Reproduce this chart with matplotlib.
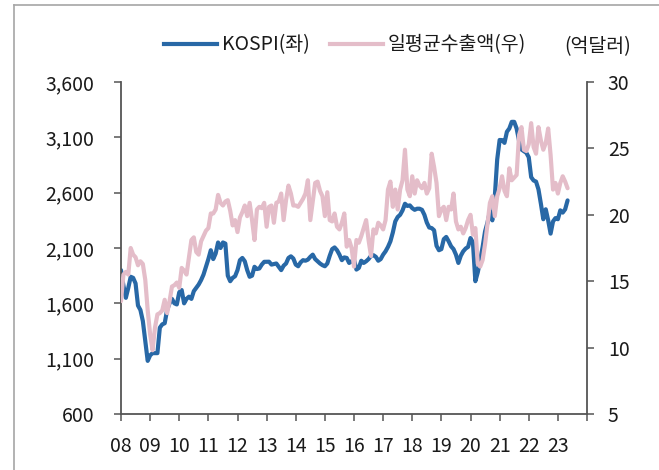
import matplotlib
matplotlib.use("Agg")
import matplotlib.pyplot as plt
import numpy as np
from matplotlib.lines import Line2D
from matplotlib.ticker import FuncFormatter, FixedLocator

plt.rcParams['font.family'] = ['Noto Sans CJK KR', 'DejaVu Sans']

# Monthly data, Jan 2008 .. May 2023
kospi = [
    # 2008
    1900, 1760, 1650, 1740, 1840, 1830, 1780, 1580, 1540, 1440, 1260, 1080,
    # 2009
    1130, 1150, 1150, 1150, 1380, 1410, 1420, 1540, 1600, 1640, 1600, 1590,
    # 2010
    1700, 1720, 1600, 1640, 1660, 1640, 1710, 1740, 1770, 1810, 1860, 1930,
    # 2011
    2000, 2080, 2000, 2050, 2150, 2100, 2150, 2140, 1850, 1800, 1830, 1845,
    # 2012
    1900, 1990, 2010, 1980, 1900, 1840, 1850, 1930, 1910, 1915, 1950, 1975,
    # 2013
    1975, 1976, 1950, 1955, 1960, 1930, 1900, 1940, 1960, 2010, 2025, 2005,
    # 2014
    1950, 1935, 1970, 1990, 1985, 1995, 2020, 2040, 2000, 1980, 1960, 1945,
    # 2015
    1935, 1960, 2030, 2090, 2105, 2080, 2040, 1990, 2015, 2010, 1965, 1980,
    # 2016
    1995, 1905, 1920, 1985, 1965, 1980, 2000, 2030, 2035, 2020, 1985, 2000,
    # 2017
    2040, 2070, 2110, 2160, 2240, 2340, 2380, 2400, 2440, 2500, 2480, 2485,
    # 2018
    2460, 2445, 2455, 2455, 2445, 2400, 2330, 2285, 2280, 2260, 2120, 2080,
    # 2019
    2090, 2180, 2200, 2160, 2115, 2090, 2040, 1965, 2030, 2070, 2095, 2110,
    # 2020
    2190, 2150, 1800, 1880, 1990, 2110, 2250, 2330, 2430, 2350, 2560, 2900,
    # 2021
    3076, 3075, 3050, 3150, 3180, 3240, 3240, 3180, 3070, 2990, 2975, 2960,
    # 2022
    2920, 2740, 2710, 2700, 2630, 2500, 2360, 2450, 2350, 2230, 2340, 2370,
    # 2023
    2360, 2440, 2420, 2450, 2530,
]

exports = [
    # 2008
    13.5, 15.5, 15.7, 15.5, 17.5, 17.0, 16.8, 16.2, 16.5, 16.3, 15.1, 12.8,
    # 2009
    11.0, 9.8, 11.5, 12.5, 12.6, 12.8, 13.6, 12.6, 13.5, 14.6, 14.7, 14.9,
    # 2010
    14.5, 16.0, 15.8, 15.5, 16.8, 18.1, 18.3, 17.2, 17.0, 18.0, 18.4, 18.8,
    # 2011
    19.0, 20.1, 20.1, 20.4, 21.5, 20.9, 20.7, 21.0, 21.1, 20.3, 19.2, 19.6,
    # 2012
    18.7, 19.8, 20.2, 20.7, 19.9, 20.9, 19.6, 18.1, 20.4, 20.6, 20.5, 20.9,
    # 2013
    19.1, 20.6, 20.7, 19.4, 20.9, 21.0, 21.6, 19.6, 21.1, 22.2, 21.6, 20.7,
    # 2014
    20.7, 20.6, 20.9, 21.2, 21.6, 22.6, 19.6, 21.0, 22.4, 22.5, 21.8, 21.4,
    # 2015
    19.9, 21.7, 19.6, 19.5, 20.1, 19.1, 18.9, 19.4, 20.1, 17.6, 18.1, 17.5,
    # 2016
    16.1, 18.1, 17.9, 18.4, 19.0, 19.6, 18.1, 16.9, 18.9, 18.6, 19.4, 19.2,
    # 2017
    18.9, 19.6, 21.9, 22.5, 20.6, 21.9, 20.4, 21.9, 22.6, 24.9, 21.9, 21.4,
    # 2018
    22.9, 21.6, 22.6, 22.2, 22.0, 22.4, 21.6, 22.0, 24.6, 23.6, 22.4, 19.9,
    # 2019
    20.4, 20.6, 19.6, 20.6, 20.4, 21.6, 19.5, 18.9, 19.1, 18.6, 19.0, 19.6,
    # 2020
    20.0, 18.5, 19.0, 16.3, 16.1, 16.6, 17.8, 19.3, 20.9, 21.4, 19.9, 21.4,
    # 2021
    22.0, 22.9, 21.8, 21.4, 23.5, 22.6, 22.8, 23.0, 26.0, 26.6, 24.9, 24.8,
    # 2022
    25.3, 26.9, 25.1, 24.6, 26.6, 25.6, 24.9, 25.4, 26.5, 24.5, 21.9, 22.4,
    # 2023
    21.6, 22.4, 22.9, 22.5, 22.0,
]

left_ticks = [600, 1100, 1600, 2100, 2600, 3100, 3600]
right_ticks = [5, 10, 15, 20, 25, 30]
year_labels = ['08', '09', '10', '11', '12', '13', '14', '15', '16', '17',
               '18', '19', '20', '21', '22', '23', '']

series_names = ['KOSPI(좌)', '일평균수출액(우)']
unit_label = '(억달러)'

BLUE = '#2868a6'
PINK = '#e4bdc9'
SPINE = '#555555'
TXT = '#1a1a1a'

x = 2008 + np.arange(len(kospi)) / 12.0
x2 = 2008 + np.arange(len(exports)) / 12.0

W, H = 659, 470
fig = plt.figure(figsize=(W / 100, H / 100), dpi=100)
ax = fig.add_axes([121 / W, 1 - 414 / H, (587 - 121) / W, (414 - 82) / H])
ax2 = ax.twinx()

ax.plot(x, kospi, color=BLUE, lw=3.0, solid_joinstyle='round', solid_capstyle='round')
ax2.plot(x2, exports, color=PINK, lw=3.0, solid_joinstyle='round', solid_capstyle='round')

ax.set_xlim(2008, 2024)
ax.set_ylim(600, 3600)
ax2.set_ylim(5, 30)

ax.set_yticks(left_ticks)
ax.yaxis.set_major_formatter(FuncFormatter(lambda v, p: f'{int(v):,}'))
ax2.set_yticks(right_ticks)

years = np.arange(2008, 2025)
ax.set_xticks(years)
ax.set_xticklabels(year_labels)

fs = 14
ax.tick_params(axis='x', direction='out', length=5, width=1.1, color=SPINE, pad=11,
               labelsize=fs, labelcolor=TXT)
ax.tick_params(axis='y', direction='out', length=5, width=1.1, color=SPINE, pad=14, labelsize=fs, labelcolor=TXT)
ax2.tick_params(axis='y', direction='out', length=5, width=1.1, color=SPINE, pad=10, labelsize=fs, labelcolor=TXT)

for a in (ax, ax2):
    a.spines['top'].set_visible(False)
    for s in ('left', 'right', 'bottom'):
        a.spines[s].set_color(SPINE)
        a.spines[s].set_linewidth(1.3)
ax.spines['right'].set_visible(False)
ax2.spines['left'].set_visible(False)
ax2.spines['bottom'].set_visible(False)

handles = [Line2D([], [], color=BLUE, lw=3.0), Line2D([], [], color=PINK, lw=3.0)]
fig.legend(handles, series_names, loc='center left', bbox_to_anchor=(164 / W, 1 - 45 / H),
           ncol=2, frameon=False, fontsize=fs, handlelength=2.75, handletextpad=0.25,
           columnspacing=1.0, borderpad=0, borderaxespad=0, labelcolor=TXT)
fig.text(598 / W, 1 - 47 / H, unit_label, ha='center', va='center', fontsize=fs, color=TXT)

# outer frame (top and left edges)
fig.add_artist(Line2D([14 / W, 1.0], [1 - 5 / H, 1 - 5 / H], transform=fig.transFigure,
                      color='#a6a6a6', lw=1.2))
fig.add_artist(Line2D([14 / W, 14 / W], [0, 1 - 5 / H], transform=fig.transFigure,
                      color='#a6a6a6', lw=1.2))

fig.savefig('out.png', dpi=100)
